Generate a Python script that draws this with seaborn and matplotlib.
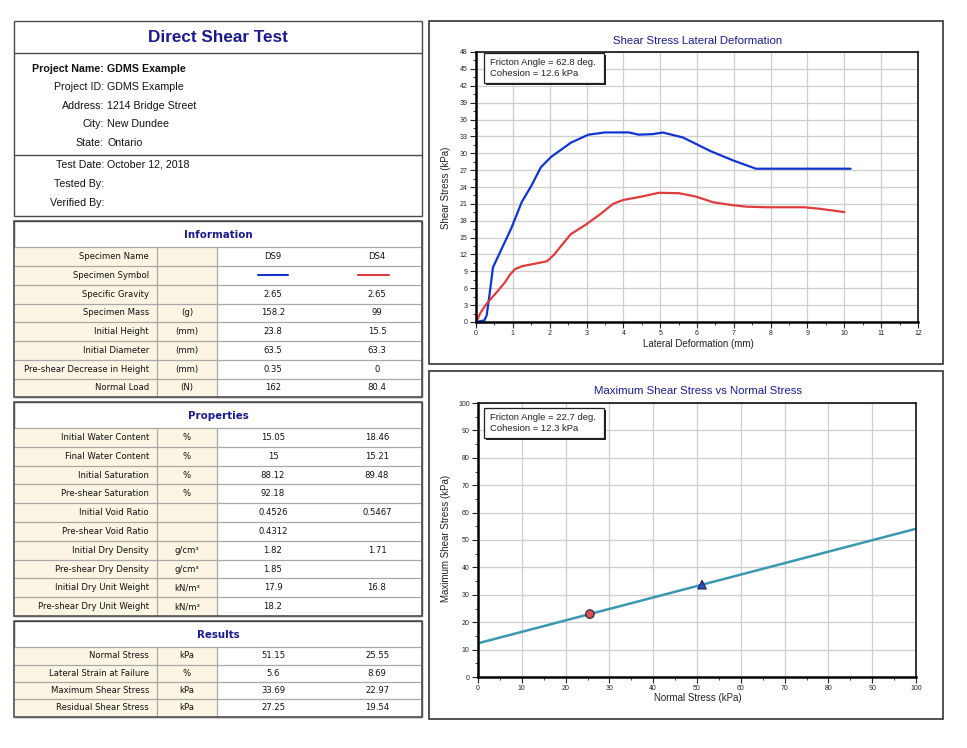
import matplotlib
matplotlib.use("Agg")
import numpy as np
import pandas as pd
import matplotlib.pyplot as plt
import seaborn as sns
from matplotlib.patches import Rectangle
from matplotlib.ticker import MultipleLocator

# ---------------- data ----------------
report_title = "Direct Shear Test"
project_labels = ["Project Name:", "Project ID:", "Address:", "City:", "State:"]
project_values = ["GDMS Example", "GDMS Example", "1214 Bridge Street", "New Dundee", "Ontario"]
test_labels = ["Test Date:", "Tested By:", "Verified By:"]
test_values = ["October 12, 2018", "", ""]

specimens = ["DS9", "DS4"]
specimen_colors = ["#1234d0", "#e03c3c"]

info_labels = ["Specimen Name", "Specimen Symbol", "Specific Gravity", "Specimen Mass",
               "Initial Height", "Initial Diameter", "Pre-shear Decrease in Height", "Normal Load"]
info_units = ["", "", "", "(g)", "(mm)", "(mm)", "(mm)", "(N)"]
info_ds9 = ["DS9", "", "2.65", "158.2", "23.8", "63.5", "0.35", "162"]
info_ds4 = ["DS4", "", "2.65", "99", "15.5", "63.3", "0", "80.4"]

prop_labels = ["Initial Water Content", "Final Water Content", "Initial Saturation",
               "Pre-shear Saturation", "Initial Void Ratio", "Pre-shear Void Ratio",
               "Initial Dry Density", "Pre-shear Dry Density", "Initial Dry Unit Weight",
               "Pre-shear Dry Unit Weight"]
prop_units = ["%", "%", "%", "%", "", "", "g/cm³", "g/cm³", "kN/m³", "kN/m³"]
prop_ds9 = ["15.05", "15", "88.12", "92.18", "0.4526", "0.4312", "1.82", "1.85", "17.9", "18.2"]
prop_ds4 = ["18.46", "15.21", "89.48", "", "0.5467", "", "1.71", "", "16.8", ""]

res_labels = ["Normal Stress", "Lateral Strain at Failure", "Maximum Shear Stress", "Residual Shear Stress"]
res_units = ["kPa", "%", "kPa", "kPa"]
res_ds9 = ["51.15", "5.6", "33.69", "27.25"]
res_ds4 = ["25.55", "8.69", "22.97", "19.54"]

# shear stress vs lateral deformation curves
ds9_deformation = [0, 0.23, 0.29, 0.37, 0.46, 0.96, 1.24, 1.51, 1.76, 2.03, 2.58, 3.05,
                   3.5, 4.15, 4.42, 4.8, 5.07, 5.62, 6.36, 6.99, 7.6, 10.17]
ds9_shear = [0, 0.3, 1.2, 5.0, 9.7, 16.7, 21.3, 24.3, 27.5, 29.3, 31.9, 33.3,
             33.7, 33.7, 33.3, 33.4, 33.69, 32.8, 30.4, 28.7, 27.25, 27.25]
ds4_deformation = [0, 0.12, 0.26, 0.4, 0.55, 0.78, 0.92, 1.06, 1.24, 1.47, 1.93, 2.11,
                   2.57, 2.98, 3.4, 3.72, 4.0, 4.5, 4.96, 5.51, 5.97, 6.43, 6.93, 7.35,
                   7.9, 8.91, 9.37, 10.0]
ds4_shear = [0, 1.6, 3.0, 4.1, 5.2, 7.0, 8.4, 9.4, 9.9, 10.2, 10.8, 11.9,
             15.6, 17.3, 19.3, 21.0, 21.7, 22.3, 22.97, 22.9, 22.3, 21.3, 20.8, 20.5,
             20.4, 20.4, 20.1, 19.54]

# failure envelope
fit_normal = [0, 100]
fit_shear = [12.3, 54.1]
curve_note = ["Fricton Angle = 62.8 deg.", "Cohesion = 12.6 kPa"]
env_note = ["Fricton Angle = 22.7 deg.", "Cohesion = 12.3 kPa"]

# ---------------- style ----------------
sns.set_style("white")
plt.rcParams["font.family"] = ["Liberation Sans", "DejaVu Sans"]

W, H = 967, 748
fig = plt.figure(figsize=(W / 100, H / 100), dpi=100)
fig.patch.set_facecolor("white")

bg = fig.add_axes([0, 0, 1, 1])
bg.set_xlim(0, W)
bg.set_ylim(H, 0)
bg.axis("off")

NAVY = "#1a1a8c"
CREAM = "#fcf5e3"
GRID = "#a8a8a8"
BORDER = "#4a4a4a"


def rect(ax, x0, y0, x1, y1, fc="none", ec=BORDER, lw=1.0, z=1):
    ax.add_patch(Rectangle((x0, y0), x1 - x0, y1 - y0, facecolor=fc, edgecolor=ec, lw=lw, zorder=z))


# ---- header box ----
L, R = 14, 422
rect(bg, L, 21, R, 216)
bg.plot([L, R], [52.5, 52.5], color=BORDER, lw=1.0)
bg.plot([L, R], [155, 155], color=BORDER, lw=1.0)
bg.text((L + R) / 2, 37.5, report_title, ha="center", va="center", fontsize=12.3,
        fontweight="bold", color=NAVY)
ys = [68.7, 87, 105.7, 124, 143]
for i, (lab, val) in enumerate(zip(project_labels, project_values)):
    fw = "bold" if i == 0 else "normal"
    bg.text(104, ys[i], lab, ha="right", va="center", fontsize=7.7, fontweight=fw, color="#111")
    bg.text(107, ys[i], val, ha="left", va="center", fontsize=7.7, fontweight=fw, color="#111")
for y, lab, val in zip([164.7, 183.7, 203], test_labels, test_values):
    bg.text(104, y, lab, ha="right", va="center", fontsize=7.7, color="#111")
    bg.text(107, y, val, ha="left", va="center", fontsize=7.7, color="#111")

# ---- tables ----
C1, C2, C3, C4 = 157, 217, 329, 422


def draw_table(top, title_h, row_h, title, labels, units, v1, v2, symbol_row=None):
    n = len(labels)
    bottom = top + title_h + n * row_h
    rect(bg, L, top, R, bottom, fc="white")
    y0 = top + title_h
    rect(bg, L, y0, C2, bottom, fc=CREAM, ec="none", z=1)
    for i in range(n + 1):
        y = y0 + i * row_h
        bg.plot([L, R], [y, y], color=GRID, lw=0.9, zorder=2)
    bg.plot([C1, C1], [y0, bottom], color=GRID, lw=0.9, zorder=2)
    bg.plot([C2, C2], [y0, bottom], color=GRID, lw=0.9, zorder=2)
    rect(bg, L, top, R, bottom, ec=BORDER, lw=1.1, z=3)
    bg.text((L + R) / 2, top + title_h / 2 + 0.5, title, ha="center", va="center",
            fontsize=7.4, fontweight="bold", color=NAVY, family="DejaVu Sans")
    for i in range(n):
        yc = y0 + (i + 0.5) * row_h
        bg.text(C1 - 8, yc, labels[i], ha="right", va="center", fontsize=6.1,
                family="DejaVu Sans", color="#111")
        bg.text((C1 + C2) / 2, yc, units[i], ha="center", va="center", fontsize=6.1,
                family="DejaVu Sans", color="#111")
        bg.text(273, yc, v1[i], ha="center", va="center", fontsize=6.1,
                family="DejaVu Sans", color="#111")
        bg.text(377, yc, v2[i], ha="center", va="center", fontsize=6.1,
                family="DejaVu Sans", color="#111")
        if symbol_row is not None and i == symbol_row:
            bg.plot([258, 288], [yc, yc], color=specimen_colors[0], lw=1.5, zorder=4)
            bg.plot([358, 389], [yc, yc], color=specimen_colors[1], lw=1.5, zorder=4)


draw_table(221, 26.3, 18.75, "Information", info_labels, info_units, info_ds9, info_ds4, symbol_row=1)
draw_table(402, 26.0, 18.8, "Properties", prop_labels, prop_units, prop_ds9, prop_ds4)
draw_table(621, 26.3, 17.3, "Results", res_labels, res_units, res_ds9, res_ds4)

# ---- right panel boxes ----
rect(bg, 429, 21, 943, 364, ec="#333333", lw=1.2)
rect(bg, 429, 371, 943, 719, ec="#333333", lw=1.2)


def add_axes_px(x0, y0, x1, y1):
    return fig.add_axes([x0 / W, 1 - y1 / H, (x1 - x0) / W, (y1 - y0) / H])


def style_axes(ax, xmaj, xmin, ymaj, ymin):
    ax.set_facecolor("white")
    ax.xaxis.set_major_locator(MultipleLocator(xmaj))
    ax.xaxis.set_minor_locator(MultipleLocator(xmin))
    ax.yaxis.set_major_locator(MultipleLocator(ymaj))
    ax.yaxis.set_minor_locator(MultipleLocator(ymin))
    ax.grid(True, which="major", color="#cfcfcf", lw=0.9)
    ax.set_axisbelow(True)
    for s in ["left", "bottom"]:
        ax.spines[s].set_linewidth(1.8)
        ax.spines[s].set_color("black")
    for s in ["top", "right"]:
        ax.spines[s].set_linewidth(1.1)
        ax.spines[s].set_color("black")
    ax.tick_params(axis="both", which="major", direction="out", length=4, width=0.8,
                   labelsize=5, pad=2, colors="#222", left=True, bottom=True)
    ax.tick_params(axis="both", which="minor", direction="out", length=2, width=0.6,
                   left=True, bottom=True, colors="#222")
    ax.set_xlabel("")
    ax.set_ylabel("")


# ---- chart 1: shear stress vs lateral deformation ----
curves = pd.concat([
    pd.DataFrame({"deformation": ds9_deformation, "shear": ds9_shear, "specimen": specimens[0]}),
    pd.DataFrame({"deformation": ds4_deformation, "shear": ds4_shear, "specimen": specimens[1]}),
])
ax1 = add_axes_px(476, 52, 918, 322)
sns.lineplot(data=curves, x="deformation", y="shear", hue="specimen", sort=False,
             estimator=None, palette=dict(zip(specimens, specimen_colors)), lw=1.6,
             legend=False, ax=ax1)
ax1.set_xlim(0, 12)
ax1.set_ylim(0, 48)
style_axes(ax1, 1, 0.5, 3, 1.5)

# ---- chart 2: max shear vs normal stress ----
ax2 = add_axes_px(478, 403, 916, 677)
env = pd.DataFrame({"normal": fit_normal, "shear": fit_shear})
sns.lineplot(data=env, x="normal", y="shear", color="#3a98b0", lw=1.8, ax=ax2)
pts = pd.DataFrame({"normal": [float(res_ds9[0]), float(res_ds4[0])],
                    "shear": [float(res_ds9[2]), float(res_ds4[2])],
                    "specimen": specimens})
sns.scatterplot(data=pts, x="normal", y="shear", hue="specimen", style="specimen",
                markers={specimens[0]: "^", specimens[1]: "o"},
                palette=dict(zip(specimens, ["#2a4fd0", "#d95050"])), s=38,
                edgecolor="#222244", linewidth=0.8, legend=False, zorder=5, ax=ax2)
ax2.set_xlim(0, 100)
ax2.set_ylim(0, 100)
style_axes(ax2, 10, 5, 10, 5)

# ---- overlay: titles, labels, notes ----
ov = fig.add_axes([0, 0, 1, 1])
ov.set_xlim(0, W)
ov.set_ylim(H, 0)
ov.axis("off")
ov.patch.set_alpha(0)

ov.text(698, 41, "Shear Stress Lateral Deformation", ha="center", va="center",
        fontsize=8.2, color=NAVY)
ov.text(698, 390.5, "Maximum Shear Stress vs Normal Stress", ha="center", va="center",
        fontsize=8.2, color=NAVY)
ov.text(698, 344, "Lateral Deformation (mm)", ha="center", va="center", fontsize=7, color="#222")
ov.text(698, 698, "Normal Stress (kPa)", ha="center", va="center", fontsize=7, color="#222")
ov.text(446, 188, "Shear Stress (kPa)", ha="center", va="center", rotation=90,
        fontsize=7, color="#222")
ov.text(446, 538, "Maximum Shear Stress (kPa)", ha="center", va="center", rotation=90,
        fontsize=7, color="#222")


def note_box(x0, y0, lines):
    x1, y1 = x0 + 120, y0 + 30
    ov.add_patch(Rectangle((x0 + 2.5, y0 + 2.5), x1 - x0, y1 - y0, facecolor="#222",
                           edgecolor="none", zorder=5))
    ov.add_patch(Rectangle((x0, y0), x1 - x0, y1 - y0, facecolor="white",
                           edgecolor="#222", lw=0.9, zorder=6))
    ov.text(x0 + 7, y0 + 9.5, lines[0], ha="left", va="center", fontsize=6.8, color="#222", zorder=7)
    ov.text(x0 + 7, y0 + 20.5, lines[1], ha="left", va="center", fontsize=6.8, color="#222", zorder=7)


note_box(483.5, 52.5, curve_note)
note_box(483.5, 407.5, env_note)

fig.savefig("out.png", dpi=100, facecolor="white")
